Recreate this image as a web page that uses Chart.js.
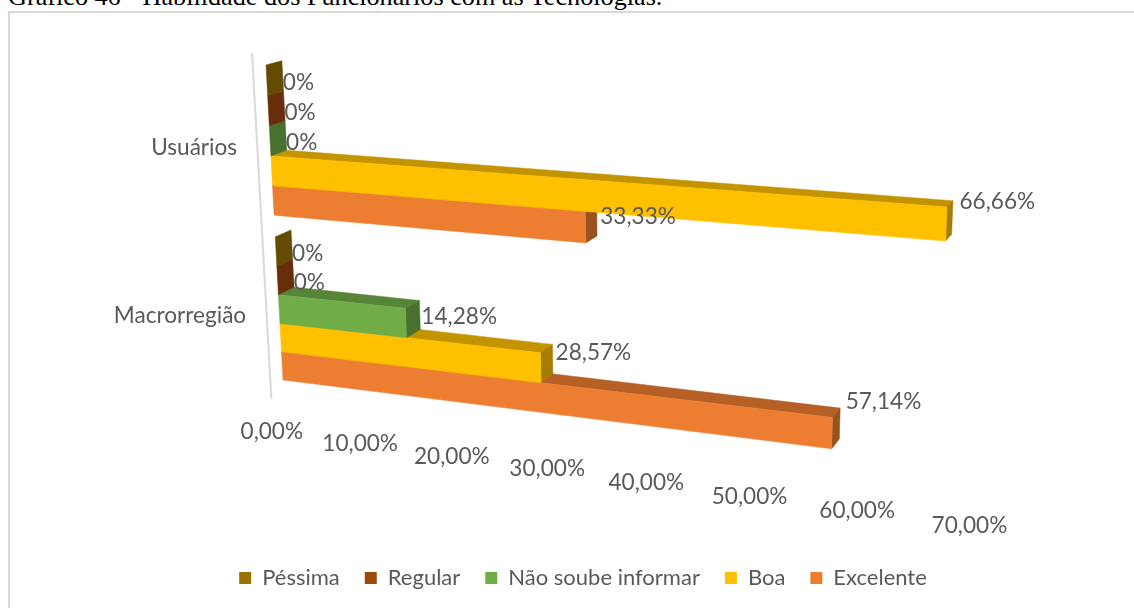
<!DOCTYPE html>
<html>
<head>
<meta charset="utf-8">
<style>
    html, body { margin: 0; padding: 0; background: #fff; overflow: hidden; }
    #title { position: absolute; left: 8px; top: -18px; font: 26.2px/30px "Liberation Serif", serif; color: #000; white-space: nowrap; }
    #frame { position: absolute; left: 8px; top: 11px; width: 1140px; height: 610px; border: 2px solid #d9d9d9; box-sizing: border-box; }
    canvas { position: absolute; left: 0; top: 0; }
</style>
<script src="https://cdn.jsdelivr.net/npm/chart.js@4"></script>
</head>
<body>
<div id="title">Gráfico 46 - Habilidade dos Funcionários com as Tecnologias.</div>
<div id="frame"></div>
<canvas id="chart" width="1134" height="608"></canvas>
<script>
const categories = ["Usuários", "Macrorregião"];
const pessima = [0, 0];
const regular = [0, 0];
const naoSoube = [0, 14.28];
const boa = [66.66, 28.57];
const excelente = [33.33, 57.14];
const tickLabels = ["0,00%", "10,00%", "20,00%", "30,00%", "40,00%", "50,00%", "60,00%", "70,00%"];

const textColor = "#595959";
const textFont = '22.6px Lato';

// perspective of the floor plane, s = share of x axis, v = share of plot height
const H = { a: 587.6, b: 32.05, c: 265.4, d: 25.5, e: 355.7, f: 53.7, g: -0.14, h: 0.049 };
const vanish = { x: 1360, y: -230, depth: 0.0145 };
const labelLift = [26, 41];

function projectShare(s, v) {
    const w = H.g * s + H.h * v + 1;
    return { x: (H.a * s + H.b * v + H.c) / w, y: (H.d * s + H.e * v + H.f) / w };
}

function back(p) {
    return { x: p.x + (vanish.x - p.x) * vanish.depth, y: p.y + (vanish.y - p.y) * vanish.depth };
}

function shade(hex, k) {
    const n = parseInt(hex.slice(1), 16);
    const r = Math.round((n >> 16 & 255) * k), g = Math.round((n >> 8 & 255) * k), b = Math.round((n & 255) * k);
    return `rgb(${r},${g},${b})`;
}

function face(ctx, pts, color) {
    ctx.beginPath();
    pts.forEach((p, i) => i ? ctx.lineTo(p.x, p.y) : ctx.moveTo(p.x, p.y));
    ctx.closePath();
    ctx.fillStyle = color;
    ctx.fill();
    ctx.strokeStyle = color;
    ctx.lineWidth = 0.5;
    ctx.stroke();
}

const bars3d = {
    id: "bars3d",
    beforeDatasetsDraw(chart) {
        const ctx = chart.ctx;
        const area = chart.chartArea;
        const xs = chart.scales.x;
        const toS = px => xs.getDecimalForPixel(px);
        const toV = py => (py - area.top) / area.height;
        ctx.save();

        // axis line
        const a0 = projectShare(-1.5 / 70, 0), a1 = projectShare(-1.5 / 70, 1.03);
        ctx.beginPath();
        ctx.moveTo(a0.x, a0.y);
        ctx.lineTo(a1.x, a1.y);
        ctx.strokeStyle = "#d9d9d9";
        ctx.lineWidth = 2;
        ctx.stroke();

        // lowest series first, the ones above sit in front of its top face
        for (let d = chart.data.datasets.length - 1; d >= 0; d--) {
            const color = chart.data.datasets[d].backgroundColor;
            chart.getDatasetMeta(d).data.forEach(bar => {
                const s0 = toS(bar.base), s1 = toS(bar.x);
                const v0 = toV(bar.y - bar.height / 2), v1 = toV(bar.y + bar.height / 2);
                const tl = projectShare(s0, v0), tr = projectShare(s1, v0);
                const bl = projectShare(s0, v1), br = projectShare(s1, v1);
                if (s1 > s0) face(ctx, [tl, tr, back(tr), back(tl)], shade(color, 0.77));
                face(ctx, [tr, br, back(br), back(tr)], shade(color, 0.65));
                if (s1 > s0) face(ctx, [tl, tr, br, bl], color);
            });
        }

        ctx.font = textFont;
        ctx.fillStyle = textColor;
        ctx.textBaseline = "middle";

        // value labels
        ctx.textAlign = "left";
        chart.data.datasets.forEach((ds, d) => {
            chart.getDatasetMeta(d).data.forEach((bar, i) => {
                const s = toS(bar.x);
                const p = projectShare(s, toV(bar.y));
                const txt = ds.data[i] === 0 ? "0%" : ds.data[i].toFixed(2).replace(".", ",") + "%";
                ctx.fillText(txt, p.x + 16 - 3 * s, p.y + 2 - labelLift[i] * s);
            });
        });

        // value axis labels follow the front edge of the floor
        ctx.textAlign = "center";
        xs.ticks.forEach((t, i) => {
            const s = toS(xs.getPixelForValue(t.value));
            const p = projectShare(s, 1.131);
            ctx.fillText(tickLabels[i], p.x - 14 + 12 * s, p.y);
        });

        // category labels
        ctx.textAlign = "right";
        categories.forEach((c, i) => {
            const p = projectShare(0, toV(chart.scales.y.getPixelForValue(i)));
            ctx.fillText(c, p.x - 33, p.y + 6.5);
        });

        ctx.restore();
        return false;
    }
};

new Chart(document.getElementById("chart"), {
    type: "bar",
    data: {
        labels: categories,
        datasets: [
            { label: "Péssima", data: pessima, backgroundColor: "#997300" },
            { label: "Regular", data: regular, backgroundColor: "#9E480E" },
            { label: "Não soube informar", data: naoSoube, backgroundColor: "#70AD47" },
            { label: "Boa", data: boa, backgroundColor: "#FFC000" },
            { label: "Excelente", data: excelente, backgroundColor: "#ED7D31" }
        ]
    },
    options: {
        indexAxis: "y",
        responsive: false,
        animation: false,
        categoryPercentage: 0.872,
        barPercentage: 1,
        layout: { padding: { left: 32, right: 0, top: 20, bottom: 9 } },
        scales: {
            x: { display: false, min: 0, max: 70, ticks: { stepSize: 10 } },
            y: { display: false }
        },
        plugins: {
            tooltip: { enabled: false },
            legend: {
                position: "bottom",
                labels: {
                    boxWidth: 12,
                    boxHeight: 12,
                    padding: 25,
                    color: textColor,
                    font: { family: "Lato", size: 22 }
                }
            }
        }
    },
    plugins: [bars3d]
});
</script>
</body>
</html>
